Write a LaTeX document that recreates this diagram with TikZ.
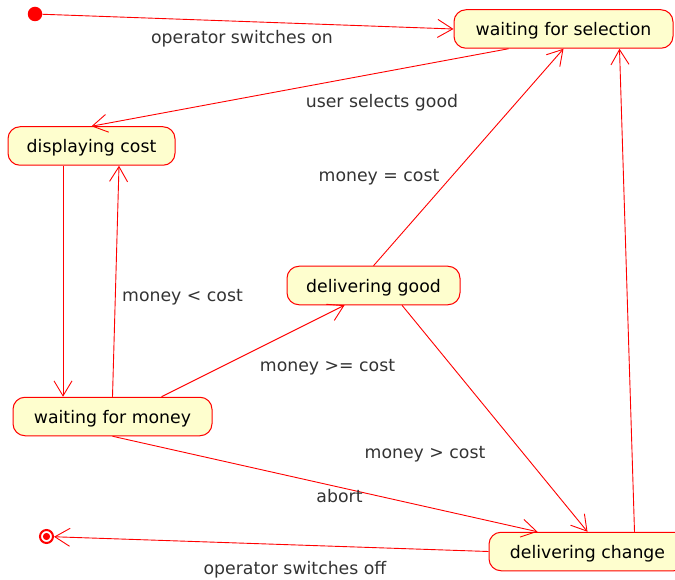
\documentclass[tikz,border=0pt]{standalone}
\usepackage{fontspec}
\setmainfont{DejaVu Sans}
\usetikzlibrary{arrows.meta}
\definecolor{statefill}{HTML}{FEFECE}
\definecolor{lineRed}{HTML}{FF0000}
\definecolor{labelgray}{HTML}{333333}
\tikzset{
  state/.style={draw=lineRed, fill=statefill, line width=1pt, rounded corners=12pt,
    minimum height=38.5pt, inner sep=0pt, text=black, text depth=0pt,
    font=\fontsize{17.3}{20}\selectfont},
  trans/.style={draw=lineRed, line width=0.9pt, -{Straight Barb[length=15pt, width=18pt, line width=0.9pt]}},
  lbl/.style={text=labelgray, inner sep=0pt, font=\fontsize{17.3}{20}\selectfont},
}
\begin{document}
\begin{tikzpicture}[x=1pt, y=-1pt]
\useasboundingbox (0,0) rectangle (675,580);
\clip (0,0) rectangle (675,580);

% initial and final pseudo-states
\node[circle, fill=lineRed, minimum size=14.5pt, inner sep=0pt] (start) at (35,14) {};
\node[circle, draw=lineRed, line width=2pt, minimum size=13pt, inner sep=0pt] (stop) at (46.5,536.5) {};
\fill[lineRed] (stop.center) circle (3.6pt);

% states
\node[state, minimum width=219pt] (wsel)    at (563.5,29)    {waiting for selection};
\node[state, minimum width=167pt] (dcost)   at (91.5,146)    {displaying cost};
\node[state, minimum width=199pt] (wmoney)  at (112.5,416.5) {waiting for money};
\node[state, minimum width=173pt] (dgood)   at (373.5,285.5) {delivering good};
\node[state, minimum width=197pt] (dchange) at (587.5,551.5) {delivering change};

% transitions
\draw[trans] (start) -- (wsel.west);
\draw[trans] ([xshift=-55pt]wsel.south) -- (dcost.north);
\draw[trans] ([xshift=-28.5pt]dcost.south) -- ([xshift=-49.5pt]wmoney.north);
\draw[trans] (wmoney.north) -- ([xshift=27.5pt]dcost.south);
\draw[trans] ([xshift=49pt]wmoney.north) -- ([xshift=-29pt]dgood.south);
\draw[trans] (dgood.north) -- (wsel.south);
\draw[trans] ([xshift=28.5pt]dgood.south) -- (dchange.north);
\draw[trans] (wmoney.south) -- ([xshift=-50pt]dchange.north);
\draw[trans] ([xshift=47pt]dchange.north) -- ([xshift=56pt]wsel.south);
\draw[trans] (dchange.west) -- (stop);

% transition labels
\node[lbl] (l1) at (242,39)    {operator switches on};
\node[lbl] (l2) at (382,103)   {user selects good};
\node[lbl] (l3) at (379,177)   {money = cost};
\node[lbl] (l4) at (182.5,297) {money < cost};
\node[lbl] (l5) at (327.5,367) {money >= cost};
\node[lbl] (l6) at (425,454)   {money > cost};
\node[lbl] (l7) at (339.5,496) {abort};
\node[lbl] (l8) at (295,570)   {operator switches off};
\end{tikzpicture}
\end{document}
